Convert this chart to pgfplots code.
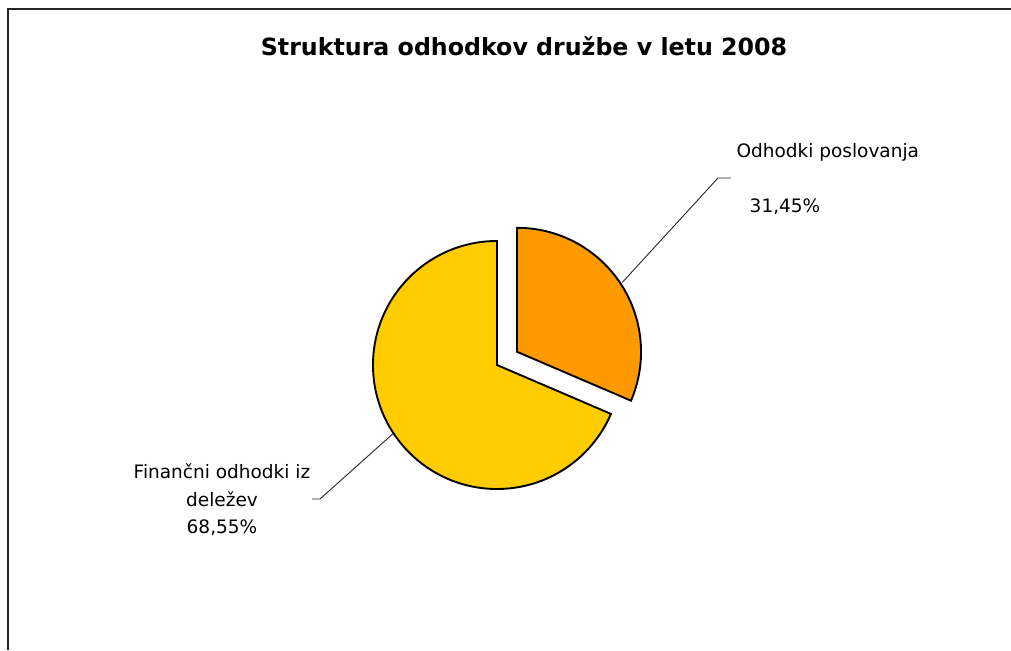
\documentclass[border=0pt]{standalone}
\usepackage{fontspec}
\setmainfont{DejaVu Sans}
\usepackage{pgfplots}
\usepackage{pgfplotstable}
\pgfplotsset{compat=1.18}
\definecolor{sliceA}{HTML}{FF9900}
\definecolor{sliceB}{HTML}{FFCC00}

% share of each item, in percent
\pgfplotstableread{
label share
poslovanja 31.45
financni 68.55
}\piedata

\begin{document}
\begin{tikzpicture}
\pgfplotstablegetelem{0}{share}\of\piedata \let\shareA\pgfplotsretval
\pgfmathsetmacro{\angA}{90-3.6*\shareA}% end of first slice (clockwise from top)
\pgfmathsetmacro{\midA}{(90+\angA)/2}
\pgfmathsetmacro{\angB}{\angA+360}
\pgfmathsetmacro{\midB}{(90+\angB)/2}
\begin{axis}[
    name=ax,
    scale only axis,
    width=1011pt, height=650pt,
    xmin=0, xmax=1011, ymin=0, ymax=650,
    y dir=reverse,
    hide axis,
    clip=false,
]
% chart frame
\draw[line width=2pt, black!85] (axis cs:8,650) -- (axis cs:8,9) -- (axis cs:1011,9);
% title
\node[font=\bfseries\fontsize{23.7}{28}\selectfont] at (axis cs:524,46) {Struktura odhodkov družbe v letu 2008};
% big slice
\filldraw[fill=sliceB, draw=black, line width=1.9pt, line join=miter]
  (axis cs:497,365) -- ++(90:124pt) arc[start angle=90, end angle=\angB, radius=124pt] -- cycle;
% exploded slice
\filldraw[fill=sliceA, draw=black, line width=1.9pt, line join=miter]
  (axis cs:497,365) ++(\midA:24pt) coordinate (oc) -- ++(\angA:124pt) arc[start angle=\angA, end angle=90, radius=124pt] -- cycle;
% leader lines
\draw[line width=0.9pt, black!85] (oc) ++(\midA:126pt) -- (axis cs:718,178) -- (axis cs:731,178);
\draw[line width=0.9pt, black!85] (axis cs:497,365) ++(\midB:124pt) -- (axis cs:320,499) -- (axis cs:312,499);
% labels
\node[font=\fontsize{18.5}{22}\selectfont, anchor=west] at (axis cs:733,152) {Odhodki poslovanja};
\node[font=\fontsize{18.5}{22}\selectfont] at (axis cs:785,207) {31,45\%};
\node[font=\fontsize{18.5}{27.5}\selectfont, align=center] at (axis cs:222,500) {Finančni odhodki iz\\deležev\\68,55\%};
\end{axis}
\pgfresetboundingbox
\useasboundingbox (ax.south west) rectangle (ax.north east);
\end{tikzpicture}
\end{document}
